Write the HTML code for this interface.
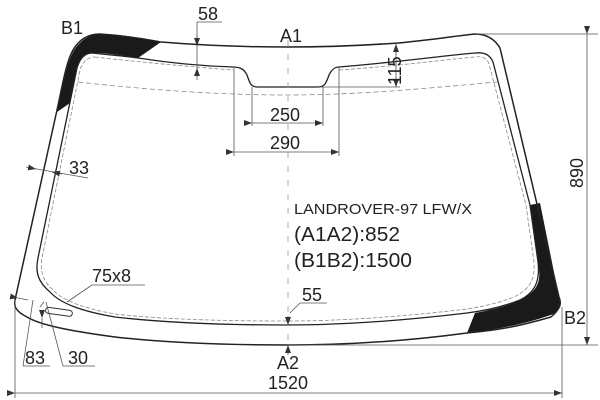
<!DOCTYPE html>
<html><head><meta charset="utf-8"><style>html,body{margin:0;padding:0;background:#fff}svg{display:block}</style></head><body>
<svg width="600" height="400" viewBox="0 0 600 400" xmlns="http://www.w3.org/2000/svg" font-family="Liberation Sans, sans-serif" fill="#222">
<defs><marker id="a" markerWidth="8" markerHeight="6" refX="8" refY="3" orient="auto" markerUnits="userSpaceOnUse"><path d="M0,0 L8,3 L0,6 z" fill="#333"/></marker></defs>
<!-- black regions -->
<path d="M57,112 C62,90 66,65 73,52 C80,40 90,34 100,34 C120,34 140,38 161,42 L138,58 C120,55 105,53 93,53 C84,54 79,60 77,68 L70,103 Z" fill="#1a1a1a"/>
<path d="M540,203 L559,297 C562,303 561,307 556,313 C530,323 500,329 467,333 L475,313 C495,309 510,305 520,300 C540,290 541,280 538,262 L530,205 Z" fill="#1a1a1a"/>
<!-- outer -->
<path d="M15,300 L57,110 C62,88 66,62 73,50 C80,38 90,34 100,34 C130,36 150,40 161,42 C210,46 250,47 287,47 C330,47 370,45 398,43 C430,40 455,36 475,34 C485,34 494,38 500,48 L559,297 C562,304 560,309 551,317 C520,326 500,330 467,333 C400,342 340,345 287,345 C200,345 150,341 115,337 C70,331 40,325 27,317 C15,311 14,306 15,300 Z" fill="none" stroke="#222" stroke-width="1.5"/>
<!-- inner -->
<path d="M92,53 C110,55 125,56 138,58 C170,63 200,66 233,67 C240,67 244,69 247,75 C250,84 251,87 258,87 L318,87 C324,87 326,84 329,75 C332,69 335,67 339,67 C400,62 440,56 475,53 C485,52 490,55 493,62 L530,205 L538,262 C540,280 536,292 520,300 C505,306 490,310 467,313 C400,321 340,325 287,325 C200,325 150,321 115,317 C80,311 60,303 50,292 C38,282 35,272 38,258 L77,68 C80,58 85,53 92,53 Z" fill="none" stroke="#222" stroke-width="1.3"/>
<!-- inner dashed -->
<path d="M95,57 C120,60 180,66 233,70 M339,70 C400,66 440,60 475,57 C483,56 487,58 489,64 L526,205 L534,262 C535,278 531,288 516,296 C500,303 480,307 467,309 C400,317 340,321 287,321 C200,321 150,318 115,314 C82,308 62,300 53,290 C42,280 40,270 42,258 L80,70 C83,61 88,57 95,57" fill="none" stroke="#888" stroke-width="0.8" stroke-dasharray="4,2"/>
<path d="M78,82 C150,90 220,95 287,95 C360,95 430,88 497,82" fill="none" stroke="#888" stroke-width="0.8" stroke-dasharray="5,3"/>
<!-- center axis -->
<line x1="288" y1="40" x2="288" y2="355" stroke="#999" stroke-width="0.8" stroke-dasharray="6,8"/>
<g stroke="#555" stroke-width="0.8" fill="none">
<line x1="197" y1="22" x2="197" y2="80"/><line x1="197" y1="22" x2="222" y2="22"/>
<line x1="197" y1="35" x2="197" y2="46" marker-end="url(#a)"/><line x1="197" y1="76" x2="197" y2="68" marker-end="url(#a)"/>
<line x1="321" y1="87" x2="400" y2="87"/><line x1="396" y1="45" x2="396" y2="87"/>
<line x1="396" y1="55" x2="396" y2="44" marker-end="url(#a)"/><line x1="396" y1="78" x2="396" y2="87" marker-end="url(#a)"/>
<line x1="252" y1="87" x2="252" y2="126"/><line x1="323" y1="87" x2="323" y2="126"/>
<line x1="234" y1="67" x2="234" y2="156"/><line x1="339" y1="67" x2="339" y2="156"/>
<line x1="252" y1="123" x2="323" y2="123" marker-start="url(#a)" marker-end="url(#a)"/>
<line x1="234" y1="152" x2="339" y2="152" marker-start="url(#a)" marker-end="url(#a)"/>
<line x1="475" y1="34" x2="598" y2="34"/><line x1="287" y1="345" x2="598" y2="345"/>
<line x1="587" y1="34" x2="587" y2="345" marker-start="url(#a)" marker-end="url(#a)"/>
<line x1="15" y1="300" x2="15" y2="398"/><line x1="562" y1="307" x2="562" y2="398"/>
<line x1="15" y1="393" x2="562" y2="393" marker-start="url(#a)" marker-end="url(#a)"/>
<line x1="31" y1="168" x2="88" y2="178"/>
<line x1="26" y1="167" x2="36" y2="169" marker-end="url(#a)"/>
<line x1="62" y1="174" x2="52" y2="172" marker-end="url(#a)"/>
<line x1="92" y1="285" x2="145" y2="285"/><line x1="92" y1="285" x2="67" y2="302"/>
<line x1="300" y1="303" x2="327" y2="303"/><line x1="300" y1="303" x2="290" y2="313"/>
<line x1="288" y1="316" x2="288" y2="325" marker-end="url(#a)"/><line x1="288" y1="355" x2="288" y2="345" marker-end="url(#a)"/>
<line x1="33" y1="300" x2="23" y2="366"/><line x1="23" y1="366" x2="50" y2="366"/>
<line x1="46" y1="302" x2="63" y2="366"/><line x1="63" y1="366" x2="95" y2="366"/>
<line x1="18" y1="298" x2="28" y2="300" marker-start="url(#a)"/>
<line x1="44" y1="302" x2="40" y2="307"/>
<line x1="42" y1="318" x2="42" y2="328" marker-start="url(#a)"/>
</g>
<rect x="46" y="307" width="27" height="6" rx="3" fill="none" stroke="#333" stroke-width="1" transform="rotate(8 46 307)"/>
<g font-size="18">
<text x="61" y="34">B1</text>
<text x="280" y="42">A1</text>
<text x="564" y="324">B2</text>
<text x="277" y="369">A2</text>
<text x="198" y="20">58</text>
<text x="270" y="121">250</text>
<text x="270" y="149">290</text>
<text x="69" y="174">33</text>
<text x="92" y="282">75x8</text>
<text x="302" y="301">55</text>
<text x="25" y="364">83</text>
<text x="68" y="364">30</text>
<text x="268" y="389">1520</text>
<text transform="translate(401,85) rotate(-90)">115</text>
<text transform="translate(583,188) rotate(-90)">890</text>
</g>
<text x="294" y="214" font-size="15" textLength="178" lengthAdjust="spacingAndGlyphs">LANDROVER-97 LFW/X</text>
<text x="294" y="241" font-size="20" textLength="106" lengthAdjust="spacingAndGlyphs">(A1A2):852</text>
<text x="294" y="267" font-size="20" textLength="118" lengthAdjust="spacingAndGlyphs">(B1B2):1500</text>
</svg>
</body></html>
